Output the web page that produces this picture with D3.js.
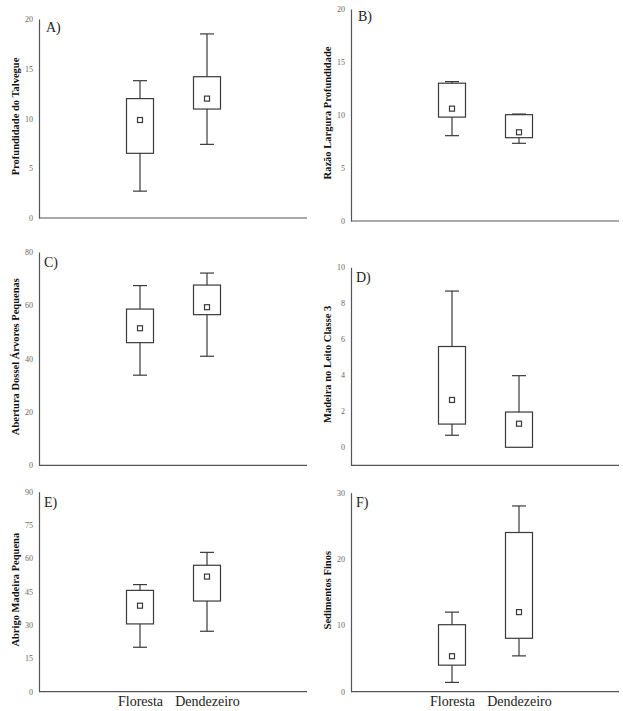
<!DOCTYPE html>
<html>
<head>
<meta charset="utf-8">
<script src="https://cdn.jsdelivr.net/npm/d3@7"></script>
<style>
  html, body { margin: 0; padding: 0; background: #fff; }
  svg { display: block; }
  svg text { font-family: "Liberation Serif", "Times New Roman", "DejaVu Serif", serif; }
</style>
</head>
<body>
<svg id="chart" width="623" height="711"></svg>
<script>
// ---------------- DATA ----------------
const categories = ["Floresta", "Dendezeiro"];
const panelLetters = ["A)", "B)", "C)", "D)", "E)", "F)"];
const axisTitles = [
  "Profundidade do Talvegue",
  "Razão Largura Profundidade",
  "Abertura Dossel Árvores Pequenas",
  "Madeira no Leito Classe 3",
  "Abrigo Madeira Pequena",
  "Sedimentos Finos"
];
// tick labels per panel
const ticksA = [0, 5, 10, 15, 20];
const ticksB = [0, 5, 10, 15, 20];
const ticksC = [0, 20, 40, 60, 80];
const ticksD = [0, 2, 4, 6, 8, 10];
const ticksE = [0, 15, 30, 45, 60, 75, 90];
const ticksF = [0, 10, 20, 30];
// y domains per panel
const domainA = [0, 20];
const domainB = [0, 20];
const domainC = [0, 80];
const domainD = [-1, 10];
const domainE = [0, 90];
const domainF = [0, 30];
// box values per category: [whisker low, Q1, mean, Q3, whisker high]
const profundidade = [[2.7, 6.5, 9.85, 12.0, 13.8], [7.4, 10.95, 12.0, 14.2, 18.5]];
const razao        = [[8.05, 9.8, 10.6, 13.0, 13.15], [7.33, 7.86, 8.37, 10.03, 10.09]];
const abertura     = [[33.8, 46.0, 51.4, 58.6, 67.4], [40.9, 56.5, 59.3, 67.6, 72.1]];
const madeira      = [[0.67, 1.29, 2.63, 5.6, 8.68], [0.0, 0.0, 1.31, 1.96, 3.98]];
const abrigo       = [[20.0, 30.5, 38.7, 45.6, 48.2], [27.2, 40.8, 51.8, 56.9, 62.7]];
const sedimentos   = [[1.4, 4.0, 5.35, 10.1, 12.0], [5.4, 8.05, 12.0, 24.0, 28.0]];

// ---------------- LAYOUT ----------------
const panels = [
  { data: profundidade, ticks: ticksA, domain: domainA, x0: 39,  x1: 307, yTop: 19,    yBot: 218,   lx: 7, ly: 13, xlabels: false },
  { data: razao,        ticks: ticksB, domain: domainB, x0: 351, x1: 619, yTop: 9,     yBot: 221,   lx: 7, ly: 12, xlabels: false },
  { data: abertura,     ticks: ticksC, domain: domainC, x0: 39,  x1: 307, yTop: 252,   yBot: 465.3, lx: 5, ly: 15, xlabels: false },
  { data: madeira,      ticks: ticksD, domain: domainD, x0: 351, x1: 619, yTop: 267.3, yBot: 465.3, lx: 5, ly: 15, xlabels: false },
  { data: abrigo,       ticks: ticksE, domain: domainE, x0: 39,  x1: 307, yTop: 491.7, yBot: 691.7, lx: 5, ly: 15, xlabels: true },
  { data: sedimentos,   ticks: ticksF, domain: domainF, x0: 351, x1: 619, yTop: 492.7, yBot: 691.7, lx: 5, ly: 14, xlabels: true }
];

const svg = d3.select("#chart");
const boxW = 27, capW = 14, meanS = 5;
const stroke = "#3a3a3a";

panels.forEach((p, i) => {
  const g = svg.append("g");
  const y = d3.scaleLinear().domain(p.domain).range([p.yBot, p.yTop]);
  const x = d3.scalePoint().domain(categories).range([p.x0 + 101, p.x0 + 168]);

  // y axis
  const yAxis = d3.axisLeft(y).tickValues(p.ticks).tickSize(0).tickSizeOuter(0).tickPadding(6);
  const ga = g.append("g").attr("transform", `translate(${p.x0},0)`).call(yAxis);
  ga.attr("font-family", null);
  ga.select(".domain").attr("stroke", "#555").attr("stroke-width", 1.2);
  ga.selectAll("text").attr("font-size", 8).attr("fill", "#666");

  // x axis line
  const xAxis = d3.axisBottom(x).tickSize(0).tickSizeOuter(0).tickPadding(4);
  const gx = g.append("g").attr("transform", `translate(0,${p.yBot})`).call(xAxis);
  gx.attr("font-family", null);
  gx.select(".domain").attr("d", `M${p.x0},0H${p.x1}`).attr("stroke", "#555").attr("stroke-width", 1.2);
  if (p.xlabels) {
    gx.selectAll("text").attr("font-size", 14).attr("fill", "#222").attr("dy", "0.71em");
  } else {
    gx.selectAll(".tick").remove();
  }

  // axis title
  g.append("text")
    .attr("transform", `translate(${p.x0 - 24},${(p.yTop + p.yBot) / 2 - 2}) rotate(-90)`)
    .attr("text-anchor", "middle")
    .attr("dominant-baseline", "central")
    .attr("font-weight", "bold").attr("font-size", 10.5).attr("fill", "#111")
    .text(axisTitles[i]);

  // panel letter
  g.append("text")
    .attr("x", p.x0 + p.lx).attr("y", p.yTop + p.ly)
    .attr("font-size", 14).attr("fill", "#222")
    .text(panelLetters[i]);

  // boxes
  const boxes = g.selectAll(".box").data(categories.map((c, k) => ({ c, v: p.data[k] })))
    .enter().append("g").attr("class", "box");

  boxes.each(function (d) {
    const b = d3.select(this);
    const cx = x(d.c);
    const [lo, q1, mean, q3, hi] = d.v;
    if (hi > q3) {
      b.append("line").attr("x1", cx).attr("x2", cx).attr("y1", y(q3)).attr("y2", y(hi));
    }
    b.append("line").attr("x1", cx - capW / 2).attr("x2", cx + capW / 2).attr("y1", y(hi)).attr("y2", y(hi));
    if (lo < q1) {
      b.append("line").attr("x1", cx).attr("x2", cx).attr("y1", y(q1)).attr("y2", y(lo));
      b.append("line").attr("x1", cx - capW / 2).attr("x2", cx + capW / 2).attr("y1", y(lo)).attr("y2", y(lo));
    }
    b.append("rect").attr("x", cx - boxW / 2).attr("width", boxW)
      .attr("y", y(q3)).attr("height", y(q1) - y(q3))
      .attr("fill", "none");
    b.append("rect").attr("x", cx - meanS / 2).attr("y", y(mean) - meanS / 2)
      .attr("width", meanS).attr("height", meanS).attr("fill", "#fff");
    b.selectAll("line, rect").attr("stroke", stroke).attr("stroke-width", 1.2);
  });
});
</script>
</body>
</html>
